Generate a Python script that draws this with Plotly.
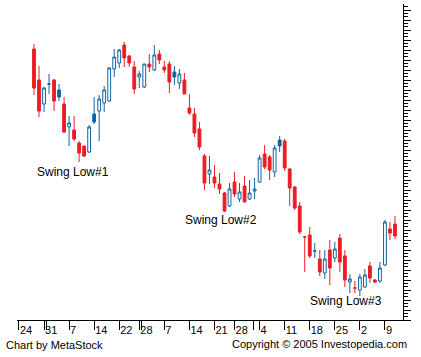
import plotly.graph_objects as go

# trading-day index counted from Mon Jan 24, 2005 (0) ; candles Jan 27 .. May 11
day_index = list(range(3, 76))

opens = [37.1, 34.0, 31.6, 33.6, 34.0, 33.0, 31.6, 29.3, 29.0, 27.7,
         27.4, 26.8, 30.6, 30.9, 31.7, 31.9, 35.1, 35.7, 37.5, 36.4,
         35.3, 34.3, 33.3, 35.6, 35.0, 36.6, 35.3, 35.6, 34.8, 33.7,
         34.0, 31.2, 30.6, 29.1, 26.4, 24.6, 24.3, 23.6, 22.7, 21.4,
         23.8, 22.1, 23.4, 22.1, 22.9, 23.8, 26.6, 26.3, 24.8, 28.0,
         27.9, 25.1, 23.3, 21.4, 18.3, 18.5, 16.9, 16.1, 14.7, 17.0,
         16.2, 18.2, 16.4, 13.8, 13.2, 13.0, 13.3, 15.4, 14.0, 13.9,
         15.5, 19.1, 19.6]
highs = [37.6, 35.4, 33.3, 34.6, 34.1, 33.6, 32.3, 30.4, 30.4, 27.9,
         27.4, 29.5, 32.3, 32.5, 33.4, 35.3, 37.1, 37.1, 37.8, 36.5,
         35.9, 34.9, 35.6, 36.6, 37.5, 37.0, 35.9, 35.9, 35.4, 35.1,
         34.7, 32.6, 31.2, 29.8, 26.6, 26.4, 25.5, 24.7, 22.8, 23.7,
         24.8, 23.7, 24.4, 24.0, 24.2, 26.5, 27.5, 26.5, 27.5, 28.4,
         28.1, 25.2, 23.4, 21.8, 18.4, 19.3, 17.7, 17.0, 17.0, 18.0,
         17.8, 18.6, 17.0, 14.6, 13.9, 14.6, 15.1, 15.8, 14.1, 15.8,
         20.0, 19.8, 20.4]
lows = [32.5, 30.3, 30.8, 32.6, 30.9, 31.9, 28.7, 27.4, 27.9, 25.8,
        26.3, 26.7, 29.6, 27.9, 30.8, 31.8, 34.3, 35.2, 35.3, 35.3,
        32.6, 33.2, 33.2, 34.8, 34.9, 35.6, 34.7, 32.7, 33.5, 33.1,
        32.6, 30.5, 28.3, 27.0, 23.0, 23.6, 23.2, 22.6, 20.8, 21.3,
        22.3, 21.8, 21.8, 22.0, 22.1, 23.7, 25.1, 24.0, 24.3, 26.8,
        24.9, 21.4, 21.0, 18.6, 14.8, 16.2, 16.2, 14.4, 14.1, 13.5,
        15.8, 14.8, 13.3, 12.7, 12.7, 12.4, 13.2, 13.7, 13.7, 13.7,
        15.4, 18.0, 18.1]
closes = [33.2, 30.9, 33.2, 33.6, 31.9, 32.3, 28.8, 29.7, 28.1, 26.7,
          26.4, 29.3, 29.8, 32.1, 33.0, 35.2, 36.3, 37.0, 36.2, 35.7,
          33.1, 34.6, 35.6, 35.3, 36.5, 36.0, 35.0, 33.8, 34.3, 34.6,
          32.6, 30.7, 28.7, 27.3, 23.7, 25.0, 23.7, 23.1, 20.9, 23.1,
          22.6, 22.8, 21.8, 22.7, 23.1, 26.2, 25.3, 25.0, 27.2, 27.4,
          25.2, 23.2, 21.2, 18.8, 18.3, 16.4, 16.9, 14.8, 16.1, 15.2,
          17.1, 15.8, 14.0, 14.1, 13.2, 14.3, 14.5, 14.2, 13.8, 15.2,
          19.8, 18.7, 18.4]
# r = red filled, b = blue hollow, f = blue filled
styles = list("rrbbrfrbrrrbfbbbbbrrrbbrbrrrfbrrrrrbrrrbrbrbbbrrbfrrrrrrbrbrbrrbrbbrrbbrr")

tick_days = [0, 5, 10, 15, 20, 24, 29, 34, 39, 43, 48, 53, 58, 63, 68, 73]
tick_labels = ["24", "31", "7", "14", "22", "28", "7", "14", "21", "28",
               "4", "11", "18", "25", "2", "9"]
month_ticks = [5.5, 24.5, 46.8]

RED = "#ec1c24"
BLUE = "#0e64a0"
style_defs = {"r": (RED, RED), "b": (BLUE, "#ffffff"), "f": (BLUE, BLUE)}

fig = go.Figure()
for key, (lc, fc) in style_defs.items():
    sel = [i for i, s in enumerate(styles) if s == key]
    fig.add_trace(go.Candlestick(
        x=[day_index[i] for i in sel],
        open=[opens[i] for i in sel],
        high=[highs[i] for i in sel],
        low=[lows[i] for i in sel],
        close=[closes[i] for i in sel],
        increasing=dict(line=dict(color=lc, width=1), fillcolor=fc),
        decreasing=dict(line=dict(color=lc, width=1), fillcolor=fc),
        whiskerwidth=0, showlegend=False, hoverinfo="skip",
    ))

all_ticks = tick_days + month_ticks
all_text = tick_labels + [""] * len(month_ticks)

fig.update_layout(
    width=421, height=357, autosize=False,
    margin=dict(l=17, r=18, t=4, b=37, pad=0),
    paper_bgcolor="white", plot_bgcolor="white",
    boxgap=0.2,
    font=dict(family="Liberation Sans, Arial", size=11, color="black"),
    xaxis=dict(
        range=[-0.39, 76.6], rangeslider=dict(visible=False),
        tickmode="array", tickvals=all_ticks, ticktext=all_text,
        ticks="outside", ticklen=9, tickcolor="black", tickwidth=1,
        ticklabelposition="outside right", tickangle=0,
        showline=True, linecolor="black", linewidth=1,
        showgrid=False, zeroline=False,
        tickfont=dict(family="Liberation Sans, Arial", size=11, color="black"),
    ),
    yaxis=dict(
        side="right", range=[10, 41.6],
        tick0=10, dtick=1, ticks="outside", ticklen=7, tickcolor="black",
        showticklabels=False,
        minor=dict(dtick=1 / 3, ticks="outside", ticklen=4, tickcolor="black"),
        showline=True, linecolor="black", linewidth=1,
        showgrid=False, zeroline=False,
    ),
    annotations=[
        dict(x=10.8, y=24.8, xref="x", yref="y", text="Swing Low#1",
             showarrow=False, font=dict(size=12)),
        dict(x=40.3, y=20.0, xref="x", yref="y", text="Swing Low#2",
             showarrow=False, font=dict(size=12)),
        dict(x=65.2, y=11.9, xref="x", yref="y", text="Swing Low#3",
             showarrow=False, font=dict(size=12)),
        dict(x=-0.034, y=-0.079, xref="paper", yref="paper",
             text="Chart by MetaStock", showarrow=False,
             xanchor="left", yanchor="middle", font=dict(size=11)),
        dict(x=1.0155, y=-0.076, xref="paper", yref="paper",
             text="Copyright © 2005 Investopedia.com", showarrow=False,
             xanchor="right", yanchor="middle", font=dict(size=11)),
    ],
)

fig.write_html("out.html", config={"displayModeBar": False},
               post_script="document.body.style.margin='0';")
